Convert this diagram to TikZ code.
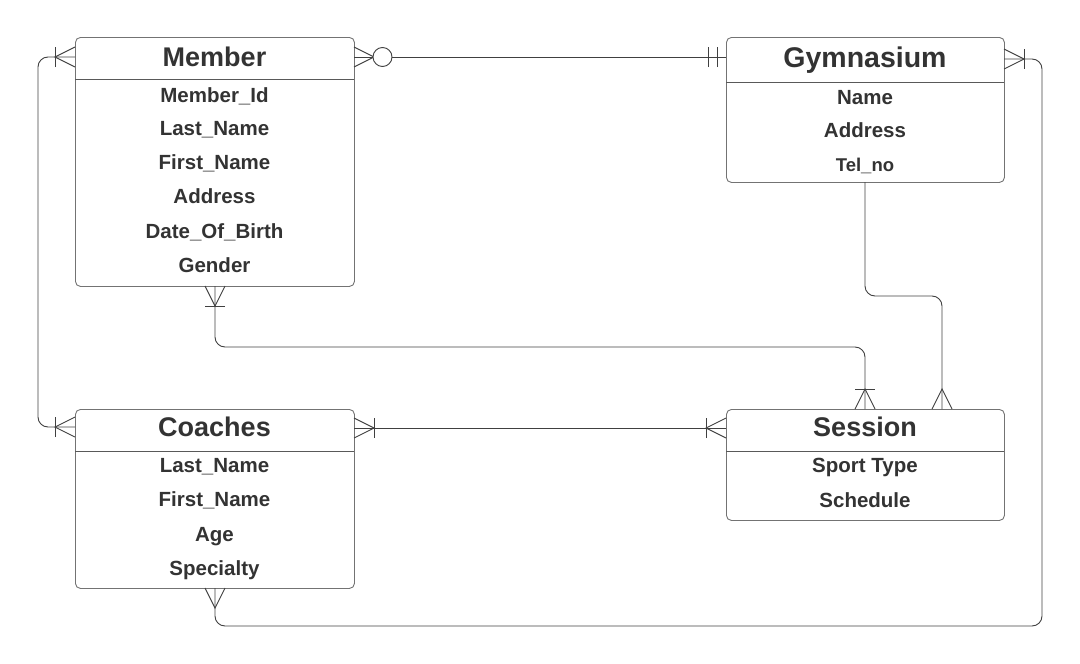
\documentclass[tikz,border=0pt]{standalone}
\usepackage{fontspec}
\setmainfont{Liberation Sans}
\begin{document}
\begin{tikzpicture}[x=1pt,y=-1pt,
  conn/.style={draw=black!75, line width=0.9pt},
  ent/.style={draw=black!55, line width=0.9pt, fill=white, rounded corners=5pt, inner sep=0pt, anchor=north west},
  hdr/.style={draw=black!65, line width=0.9pt},
  etitle/.style={text=black!80, font=\fontsize{27}{30}\selectfont\bfseries, inner sep=0pt, anchor=base},
  attr/.style={text=black!80, font=\fontsize{20.5}{24}\selectfont\bfseries, inner sep=0pt, anchor=base},
  crowfoot/.pic={\draw[conn] (0,-10) -- (20,0) -- (0,10);},
  onebar/.pic={\draw[conn] (20,-10) -- (20,10);},
  twobar/.pic={\draw[conn] (9,-10) -- (9,10); \draw[conn] (18,-10) -- (18,10);},
  zerocirc/.pic={\draw[conn, fill=white] (28.5,0) circle[radius=9.5];}
]
\useasboundingbox (0,0) rectangle (1080,664);

% entity boxes
\node[ent, minimum width=279pt, minimum height=249pt] (member) at (75,37) {};
\node[ent, minimum width=278pt, minimum height=145pt] (gym) at (726,37) {};
\node[ent, minimum width=279pt, minimum height=179pt] (coach) at (75,409) {};
\node[ent, minimum width=278pt, minimum height=111pt] (sess) at (726,409) {};

\draw[hdr] (75,79) -- (354,79);
\draw[hdr] (726,82) -- (1004,82);
\draw[hdr] (75,451) -- (354,451);
\draw[hdr] (726,451) -- (1004,451);

% titles and attributes (base lines)
\node[etitle] (memberT) at (214.5,66.5) {Member};
\node[attr] (m1) at (214.5,102) {Member\_Id};
\node[attr] (m2) at (214.5,135.5) {Last\_Name};
\node[attr] (m3) at (214.5,169.5) {First\_Name};
\node[attr] (m4) at (214.5,203.5) {Address};
\node[attr] (m5) at (214.5,238) {Date\_Of\_Birth};
\node[attr] (m6) at (214.5,272.5) {Gender};

\node[etitle, font=\fontsize{28.5}{32}\selectfont\bfseries] (gymT) at (865,67) {Gymnasium};
\node[attr] (g1) at (865,104.5) {Name};
\node[attr] (g2) at (865,137.5) {Address};
\node[attr, font=\fontsize{18.5}{22}\selectfont\bfseries] (g3) at (865,171.5) {Tel\_no};

\node[etitle] (coachT) at (214.5,436.5) {Coaches};
\node[attr] (c1) at (214.5,472.5) {Last\_Name};
\node[attr] (c2) at (214.5,506.5) {First\_Name};
\node[attr] (c3) at (214.5,541) {Age};
\node[attr] (c4) at (214.5,575.5) {Specialty};

\node[etitle] (sessT) at (865,436.5) {Session};
\node[attr] (s1) at (865,472.5) {Sport Type};
\node[attr] (s2) at (865,507) {Schedule};

% connector end points
\coordinate (mR) at (354,57);
\coordinate (gL) at (726,57);
\coordinate (mL) at (75,57);
\coordinate (cL) at (75,427);
\coordinate (mB) at (215,286);
\coordinate (sT1) at (865,409);
\coordinate (gB) at (865,182);
\coordinate (sT2) at (942,409);
\coordinate (cR) at (354,428);
\coordinate (sL) at (726,428);
\coordinate (cB) at (215,588);
\coordinate (gR) at (1004,59);

% connectors
\draw[conn] (mR) -- (gL);
\draw[conn, rounded corners=10pt] (mL) -- ++(-37,0) |- (cL);
\draw[conn, rounded corners=10pt] (mB) -- ++(0,61) -| (sT1);
\draw[conn, rounded corners=10pt] (gB) -- ++(0,114) -| (sT2);
\draw[conn] (cR) -- (sL);
\draw[conn, rounded corners=10pt] (cB) -- ++(0,38) -- ++(827,0) |- (gR);

% end markers
\pic at (mR) {crowfoot}; \pic at (mR) {zerocirc};
\pic[rotate=180] at (gL) {twobar};
\pic[rotate=180] at (mL) {crowfoot}; \pic[rotate=180] at (mL) {onebar};
\pic[rotate=180] at (cL) {crowfoot}; \pic[rotate=180] at (cL) {onebar};
\pic[rotate=-90] at (mB) {crowfoot}; \pic[rotate=-90] at (mB) {onebar};
\pic[rotate=90] at (sT1) {crowfoot}; \pic[rotate=90] at (sT1) {onebar};
\pic[rotate=90] at (sT2) {crowfoot};
\pic at (cR) {crowfoot}; \pic at (cR) {onebar};
\pic[rotate=180] at (sL) {crowfoot}; \pic[rotate=180] at (sL) {onebar};
\pic[rotate=-90] at (cB) {crowfoot};
\pic at (gR) {crowfoot}; \pic at (gR) {onebar};
\end{tikzpicture}
\end{document}
